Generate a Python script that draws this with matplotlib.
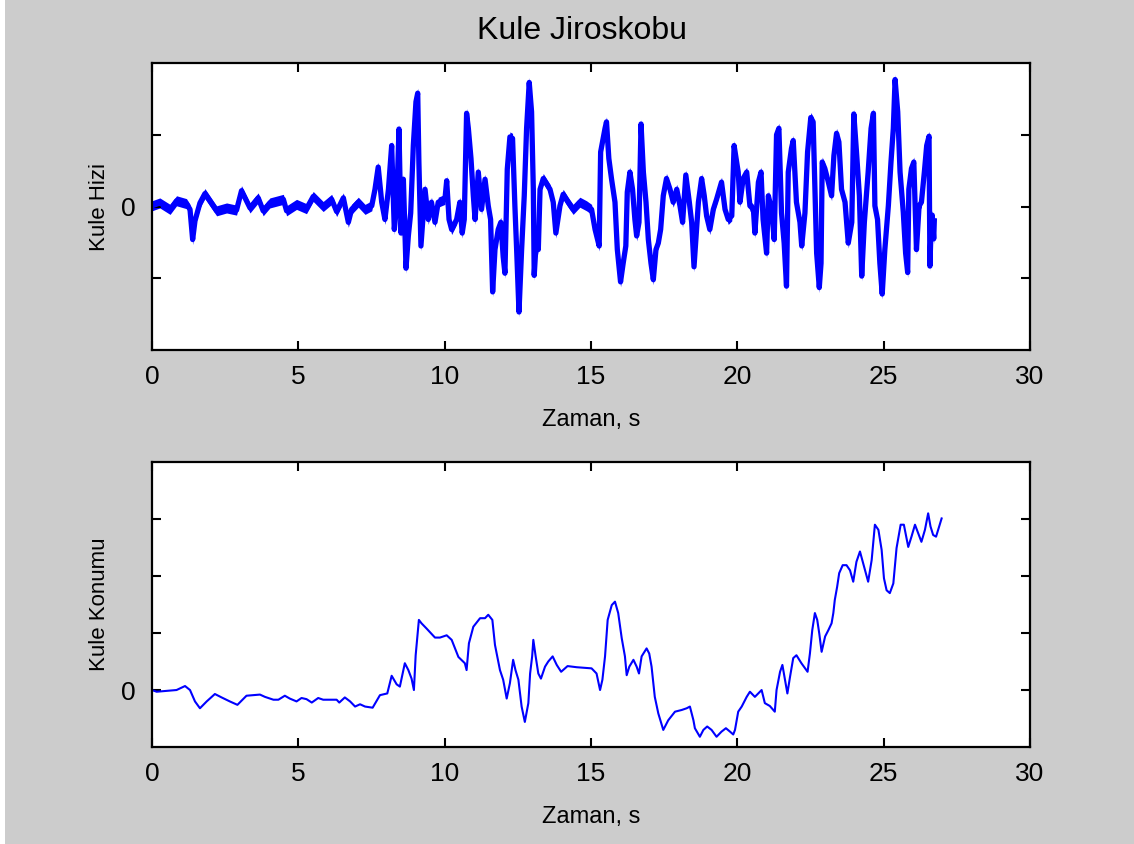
import numpy as np
import matplotlib
matplotlib.use("Agg")
import matplotlib.pyplot as plt
from matplotlib.patches import Rectangle

# Kule Hizi (ust grafik) - okunan tepe/cukur noktalari
t_hiz = [0.0, 0.27, 0.62, 0.84, 1.18, 1.30, 1.39, 1.47, 1.64, 1.81, 2.21, 2.55, 2.89, 3.06, 3.35,
         3.63, 3.80, 4.03, 4.49, 4.60, 4.94, 5.28, 5.51, 5.85, 6.14, 6.31, 6.54, 6.71,
         6.82, 7.05, 7.28, 7.51, 7.62, 7.73, 7.85, 7.96, 8.08, 8.19, 8.28, 8.36, 8.44, 8.51,
         8.59, 8.68, 8.76, 8.84, 8.93, 9.02, 9.08, 9.12, 9.19, 9.27, 9.33, 9.44, 9.55, 9.67,
         9.78, 10.01, 10.07, 10.15, 10.24, 10.41, 10.52, 10.60, 10.67, 10.75, 10.81, 10.90,
         10.98, 11.04, 11.15, 11.26, 11.38, 11.49, 11.57, 11.64, 11.72, 11.83, 11.92, 12.00,
         12.06, 12.14, 12.23, 12.32, 12.40, 12.46, 12.54, 12.63, 12.72, 12.80, 12.89, 12.97,
         13.03, 13.06, 13.14, 13.20, 13.26, 13.37,
         13.60, 13.71, 13.80, 13.94, 14.05, 14.22, 14.39, 14.62, 14.85, 15.02, 15.14, 15.28,
         15.33, 15.48, 15.53, 15.61, 15.70, 15.82, 15.90, 16.01, 16.10, 16.19, 16.24, 16.33,
         16.42, 16.50, 16.56, 16.64, 16.71, 16.79, 16.88, 16.96, 17.05, 17.13, 17.22, 17.30,
         17.38, 17.47, 17.58, 17.70, 17.81, 17.93, 18.04, 18.13, 18.24, 18.36, 18.44, 18.52,
         18.59, 18.67, 18.78, 18.87, 18.95, 19.06, 19.18, 19.29, 19.46, 19.58, 19.69, 19.81,
         19.89,
         20.03, 20.09, 20.20, 20.32, 20.43, 20.55, 20.60, 20.72, 20.81, 20.88, 21.00, 21.06,
         21.17, 21.26, 21.34, 21.42, 21.51, 21.60, 21.68, 21.74, 21.85, 21.91, 22.02, 22.14,
         22.20, 22.31, 22.40, 22.51, 22.59, 22.65, 22.71, 22.80, 22.86, 22.90, 22.99, 23.11,
         23.22, 23.30, 23.39, 23.47, 23.56, 23.68, 23.79, 23.91, 23.98, 24.08, 24.17, 24.25,
         24.34, 24.47, 24.57, 24.65, 24.70, 24.79, 24.87, 24.95, 25.04, 25.16, 25.25, 25.33,
         25.39, 25.48, 25.56, 25.67, 25.75, 25.82, 25.86, 25.95, 26.03, 26.12, 26.21, 26.29,
         26.39, 26.47, 26.55, 26.58, 26.62, 26.66, 26.71, 26.73]
v_hiz = [0.01, 0.05, -0.04, 0.08, 0.04, -0.04, -0.46, -0.20, 0.05, 0.18, -0.06, -0.02, -0.05, 0.22, -0.02,
         0.12, -0.06, 0.05, 0.10, -0.06, 0.03, -0.03, 0.14, 0.00, 0.10, -0.07, 0.12, -0.22,
         -0.04, 0.06, -0.04, 0.01, 0.24, 0.55, 0.06, -0.18, 0.24, 0.85, -0.32, 0.01, 1.08, -0.37,
         0.38, -0.86, -0.41, -0.09, 0.85, 1.46, 1.58, 0.62, -0.55, -0.09, 0.24, -0.18, 0.06, -0.22,
         0.06, 0.10, 0.36, -0.18, -0.32, -0.18, 0.06, -0.37, -0.18, 1.30, 1.09, 0.67,
         0.15, -0.18, 0.48, -0.04, 0.38, 0.01, -0.18, -1.19, -0.60, -0.32, -0.22, -0.70,
         -0.93, 0.52, 0.97, 0.95, 0.01, -0.60, -1.47, -0.60, 0.15, 1.09, 1.73, 1.32,
         0.24, -0.96, -0.41, -0.60, 0.24, 0.39,
         0.24, 0.06, -0.37, 0.01, 0.17, 0.06, -0.04, 0.06, 0.01, -0.04, -0.32, -0.55,
         0.76, 1.09, 1.18, 0.67, 0.39, 0.06, -0.60, -1.05, -0.79, -0.55, 0.20, 0.48,
         0.24, -0.18, -0.41, -0.22, 1.15, 0.48, 0.06, -0.46, -0.79, -1.02, -0.60, -0.51,
         -0.32, 0.15, 0.39, 0.24, 0.06, 0.24, 0.01, -0.22, 0.44, 0.06, -0.22, -0.84,
         -0.41, 0.06, 0.39, 0.15, -0.13, -0.32, -0.04, 0.10, 0.34, -0.04, -0.18, -0.13,
         0.85,
         0.48, 0.06, 0.39, 0.48, 0.01, -0.04, -0.37, 0.34, 0.48, -0.18, -0.65, 0.15,
         -0.04, -0.46, 1.00, 1.09, -0.09, -0.51, -1.11, 0.48, 0.81, 0.92, 0.06, -0.22,
         -0.55, -0.09, 0.76, 1.24, 1.18, 0.24, -0.65, -1.13, -0.79, 0.62, 0.53, 0.34,
         0.15, 0.71, 1.02, 0.90, 0.24, 0.06, -0.51, -0.22, 1.29, 0.71, 0.15, -0.97,
         -0.22, 0.48, 1.09, 1.30, 0.01, -0.18, -0.79, -1.22, -0.60, 0.01, 0.62, 1.09,
         1.77, 1.32, 0.48, -0.08, -0.65, -0.92, 0.24, 0.53, 0.62, -0.60, 0.01, 0.06,
         0.48, 0.85, 0.98, -0.83, -0.30, -0.12, -0.45, -0.20]

# Kule Konumu (alt grafik)
t_kon = [0.0, 0.16, 0.84, 1.13, 1.30, 1.47, 1.64, 1.87, 2.15, 2.38, 2.66, 2.92, 3.23, 3.69, 3.86,
         4.15, 4.32, 4.54, 4.71, 4.94, 5.11, 5.28, 5.46, 5.68, 5.85, 6.31, 6.40, 6.59, 6.77,
         6.94, 7.11, 7.28, 7.54, 7.79, 8.04, 8.19, 8.36, 8.47, 8.64, 8.76, 8.87, 8.95, 9.01,
         9.12, 9.21, 9.38, 9.67, 9.84, 10.07, 10.24, 10.47, 10.69, 10.75, 10.83, 10.98, 11.21,
         11.38, 11.49, 11.63, 11.72, 11.89, 12.00, 12.12, 12.23, 12.34, 12.42, 12.52, 12.63,
         12.74, 12.86, 12.92, 12.99, 13.03, 13.11, 13.20, 13.29, 13.43, 13.54, 13.69, 13.83,
         13.98, 14.20, 14.51, 15.02, 15.19, 15.31, 15.39, 15.48, 15.57, 15.71, 15.82, 15.93,
         16.05, 16.16, 16.22, 16.31, 16.45, 16.56, 16.64, 16.73, 16.90, 16.99, 17.07, 17.18,
         17.30, 17.47, 17.64, 17.87, 18.10, 18.27, 18.38, 18.50, 18.55, 18.72, 18.84, 18.97,
         19.12, 19.29, 19.46, 19.61, 19.75, 19.86, 19.92, 20.03, 20.15, 20.32, 20.43, 20.60,
         20.83, 20.94, 21.11, 21.28, 21.34, 21.46, 21.54, 21.63, 21.71, 21.80, 21.91, 22.02,
         22.19, 22.40, 22.48, 22.56, 22.65, 22.73, 22.80, 22.88, 23.00, 23.11, 23.22, 23.28,
         23.33, 23.41, 23.48, 23.60, 23.73, 23.85, 23.96, 24.07, 24.19, 24.30, 24.47, 24.59,
         24.70, 24.82, 24.93, 25.01, 25.10, 25.21, 25.33, 25.44, 25.58, 25.69, 25.84, 25.95,
         26.07, 26.18, 26.29, 26.41, 26.52, 26.60, 26.69, 26.79, 26.86, 26.98]
v_kon = [0.0, -0.03, 0.0, 0.07, 0.0, -0.20, -0.32, -0.20, -0.07, -0.13, -0.20, -0.26, -0.10, -0.08, -0.12,
         -0.17, -0.17, -0.10, -0.15, -0.20, -0.14, -0.16, -0.22, -0.14, -0.17, -0.17, -0.22, -0.13, -0.20,
         -0.29, -0.25, -0.29, -0.31, -0.09, -0.06, 0.25, 0.10, 0.06, 0.47, 0.35, 0.20, 0.0, 0.61,
         1.23, 1.17, 1.08, 0.92, 0.92, 0.96, 0.88, 0.58, 0.47, 0.35, 0.82, 1.11, 1.26,
         1.26, 1.32, 1.23, 0.79, 0.35, 0.18, -0.15, 0.12, 0.53, 0.35, 0.18, -0.29,
         -0.56, -0.23, 0.29, 0.59, 0.88, 0.59, 0.29, 0.20, 0.41, 0.50, 0.59, 0.44,
         0.32, 0.42, 0.40, 0.38, 0.29, 0.0, 0.18, 0.59, 1.23, 1.49, 1.55, 1.35,
         0.91, 0.59, 0.26, 0.41, 0.53, 0.41, 0.29, 0.59, 0.73, 0.64, 0.41, -0.12,
         -0.41, -0.70, -0.53, -0.38, -0.35, -0.32, -0.29, -0.53, -0.67, -0.82, -0.70, -0.64,
         -0.70, -0.82, -0.73, -0.67, -0.73, -0.78, -0.70, -0.38, -0.29, -0.12, -0.03, -0.12,
         0.0, -0.23, -0.28, -0.38, 0.0, 0.32, 0.44, 0.18, -0.06, 0.23, 0.56, 0.61,
         0.47, 0.32, 0.64, 1.05, 1.35, 1.23, 0.99, 0.67, 0.94, 1.05, 1.17, 1.35,
         1.58, 1.81, 2.05, 2.19, 2.19, 2.10, 1.90, 2.25, 2.43, 2.22, 1.90, 2.28,
         2.90, 2.81, 2.46, 1.96, 1.75, 1.70, 1.87, 2.49, 2.90, 2.90, 2.51, 2.69,
         2.90, 2.75, 2.60, 2.81, 3.10, 2.87, 2.72, 2.69, 2.81, 3.01]

x_ticks = [0, 5, 10, 15, 20, 25, 30]
hiz_ticks = [-1, 0, 1]
kon_ticks = [0, 1, 2, 3]

mavi = (0, 0, 1)
bg = "#cccccc"
plt.rcParams["font.family"] = ["Liberation Sans", "DejaVu Sans"]

fig = plt.figure(figsize=(11.34, 8.44), dpi=100, facecolor=bg)
# ince beyaz kenar (sol)
fig.patches.append(Rectangle((0, 0), 5 / 1134, 1, transform=fig.transFigure,
                             facecolor="white", edgecolor="none", zorder=0))
ax1 = fig.add_axes([0.134, 0.5853, 0.7743, 0.340])
ax2 = fig.add_axes([0.134, 0.1149, 0.7743, 0.3377])

t1 = np.array(t_hiz)
v1 = np.array(v_hiz)
ax1.fill_between(t1, v1 - 0.07, v1 + 0.07, color=mavi, lw=0)
ax1.plot(t1, v1, color=mavi, lw=3.8)
ax2.plot(t_kon, v_kon, color=mavi, lw=1.5)

ax1.set_ylim(-2, 2)
ax1.set_yticks(hiz_ticks)
ax1.set_yticklabels(["", "0", ""])
ax2.set_ylim(-1, 4)
ax2.set_yticks(kon_ticks)
ax2.set_yticklabels(["0", "", "", ""])

for ax in (ax1, ax2):
    ax.set_facecolor("white")
    ax.set_xlim(0, 30)
    ax.set_xticks(x_ticks)
    ax.tick_params(direction="in", length=6.5, width=1.5, top=True, right=True,
                   labelsize=19, colors="black")
    ax.tick_params(axis="x", pad=11)
    ax.tick_params(axis="y", pad=12)
    for s in ax.spines.values():
        s.set_linewidth(1.6)
    ax.set_xlabel("Zaman, s", fontsize=17, labelpad=14)

ax1.set_title("Kule Jiroskobu", fontsize=23, pad=17, x=0.49)
ax1.set_ylabel("Kule Hizi", fontsize=16, labelpad=8)
ax2.set_ylabel("Kule Konumu", fontsize=16, labelpad=8)

fig.savefig("out.png", dpi=100, facecolor=bg)
